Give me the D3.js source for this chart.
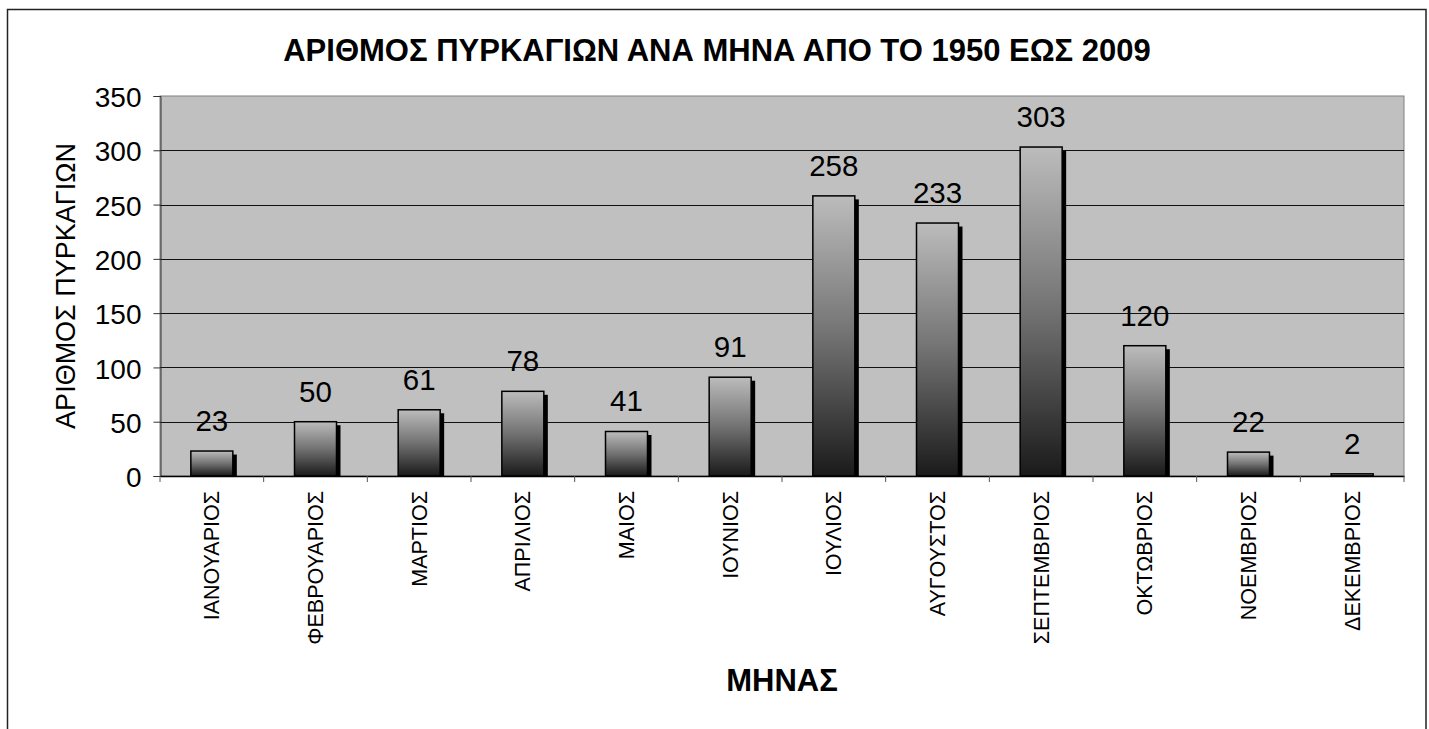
<!DOCTYPE html>
<html>
<head>
<meta charset="utf-8">
<script src="https://cdn.jsdelivr.net/npm/d3@7"></script>
<style>
  html, body { margin: 0; padding: 0; background: #fff; }
  svg { display: block; font-family: Arial, "Liberation Sans", sans-serif; }
</style>
</head>
<body>
<svg id="chart" width="1429" height="729"></svg>
<script>
const months = ["ΙΑΝΟΥΑΡΙΟΣ","ΦΕΒΡΟΥΑΡΙΟΣ","ΜΑΡΤΙΟΣ","ΑΠΡΙΛΙΟΣ","ΜΑΙΟΣ","ΙΟΥΝΙΟΣ","ΙΟΥΛΙΟΣ","ΑΥΓΟΥΣΤΟΣ","ΣΕΠΤΕΜΒΡΙΟΣ","ΟΚΤΩΒΡΙΟΣ","ΝΟΕΜΒΡΙΟΣ","ΔΕΚΕΜΒΡΙΟΣ"];
const fires = [23, 50, 61, 78, 41, 91, 258, 233, 303, 120, 22, 2];
const yTicks = [0, 50, 100, 150, 200, 250, 300, 350];
const titleText = "ΑΡΙΘΜΟΣ ΠΥΡΚΑΓΙΩΝ ΑΝΑ ΜΗΝΑ ΑΠΟ ΤΟ 1950 ΕΩΣ 2009";
const yTitle = "ΑΡΙΘΜΟΣ ΠΥΡΚΑΓΙΩΝ";
const xTitle = "ΜΗΝΑΣ";

(function () {
const svg = d3.select("#chart");
const pL = 160, pR = 1404, pT = 96, pB = 476;

// outer frame
svg.append("rect")
  .attr("x", 7.5).attr("y", 9.5).attr("width", 1418.5).attr("height", 760)
  .attr("fill", "#fff").attr("stroke", "#222").attr("stroke-width", 1.5);

const x = d3.scaleBand().domain(months).range([pL, pR]).paddingInner(0).paddingOuter(0);
const y = d3.scaleLinear().domain([0, 350]).range([pB, pT]);

// gradient
const defs = svg.append("defs");
const grad = defs.append("linearGradient").attr("id", "barGrad")
  .attr("x1", 0).attr("y1", 0).attr("x2", 0).attr("y2", 1);
grad.append("stop").attr("offset", "0%").attr("stop-color", "#bcbcbc");
grad.append("stop").attr("offset", "50%").attr("stop-color", "#727272");
grad.append("stop").attr("offset", "100%").attr("stop-color", "#1a1a1a");
defs.append("clipPath").attr("id", "plotClip").append("rect")
  .attr("x", pL).attr("y", pT).attr("width", pR - pL).attr("height", pB - pT);

// plot background
svg.append("rect").attr("x", pL).attr("y", pT)
  .attr("width", pR - pL).attr("height", pB - pT)
  .attr("fill", "#c0c0c0").attr("stroke", "#808080").attr("stroke-width", 1);

// gridlines
svg.append("g").selectAll("line").data(yTicks.filter(d => d > 0 && d < 350)).join("line")
  .attr("x1", pL).attr("x2", pR)
  .attr("y1", d => Math.round(y(d)) + 0.5).attr("y2", d => Math.round(y(d)) + 0.5)
  .attr("stroke", "#111").attr("stroke-width", 1);

// y axis
const yAxis = d3.axisLeft(y).tickValues(yTicks).tickSize(7).tickPadding(12);
const gy = svg.append("g").attr("transform", `translate(${pL + 0.5},0)`).call(yAxis);
gy.select(".domain").attr("stroke", "#333");
gy.selectAll(".tick line").attr("stroke", "#333");
gy.selectAll(".tick text").attr("font-size", 28).attr("fill", "#000")
  .attr("font-family", "Arial, 'Liberation Sans', sans-serif").attr("dy", "0.38em");

// bars
const bw = x.bandwidth() * 0.405;
const g = svg.append("g").attr("clip-path", "url(#plotClip)");
g.selectAll("rect.shadow").data(fires).join("rect").attr("class", "shadow")
  .attr("x", (d, i) => x(months[i]) + (x.bandwidth() - bw) / 2 + 4)
  .attr("y", d => y(d) + 3.5)
  .attr("width", bw)
  .attr("height", d => Math.max(0, pB - y(d)))
  .attr("fill", "#000");
svg.append("g").selectAll("rect.bar").data(fires).join("rect").attr("class", "bar")
  .attr("x", (d, i) => x(months[i]) + (x.bandwidth() - bw) / 2)
  .attr("y", d => y(d))
  .attr("width", bw)
  .attr("height", d => pB - y(d))
  .attr("fill", "url(#barGrad)")
  .attr("stroke", "#000").attr("stroke-width", 1.5);

// x axis
const xAxis = d3.axisBottom(x).tickSize(0).tickFormat("");
const gx = svg.append("g").attr("transform", `translate(0,${pB})`).call(xAxis);
gx.select(".domain").attr("stroke", "#000").attr("stroke-width", 1.5);
gx.selectAll(".tick").remove();
svg.append("g").selectAll("line").data(d3.range(months.length + 1)).join("line")
  .attr("x1", i => i < months.length ? x(months[i]) : pR)
  .attr("x2", i => i < months.length ? x(months[i]) : pR)
  .attr("y1", pB).attr("y2", pB + 6)
  .attr("stroke", "#555").attr("stroke-width", 1);

// month labels
svg.append("g").selectAll("text").data(months).join("text")
  .attr("transform", d => `translate(${x(d) + x.bandwidth() / 2},491) rotate(-90)`)
  .attr("text-anchor", "end").attr("dy", "0.35em")
  .attr("font-size", 21.5).attr("fill", "#000")
  .text(d => d);

// value labels
svg.append("g").selectAll("text").data(fires).join("text")
  .attr("x", (d, i) => x(months[i]) + x.bandwidth() / 2)
  .attr("y", d => y(d) - 20)
  .attr("text-anchor", "middle").attr("font-size", 29.5).attr("fill", "#000")
  .text(d => d);

// titles
svg.append("text").attr("x", 717).attr("y", 61).attr("text-anchor", "middle")
  .attr("font-size", 31).attr("font-weight", "bold").attr("fill", "#000").text(titleText);
svg.append("text").attr("transform", `translate(75,${(pT + pB) / 2}) rotate(-90)`)
  .attr("text-anchor", "middle").attr("font-size", 27).attr("fill", "#000").text(yTitle);
svg.append("text").attr("x", (pL + pR) / 2).attr("y", 691).attr("text-anchor", "middle")
  .attr("font-size", 31).attr("font-weight", "bold").attr("fill", "#000").text(xTitle);
})();
</script>
</body>
</html>
